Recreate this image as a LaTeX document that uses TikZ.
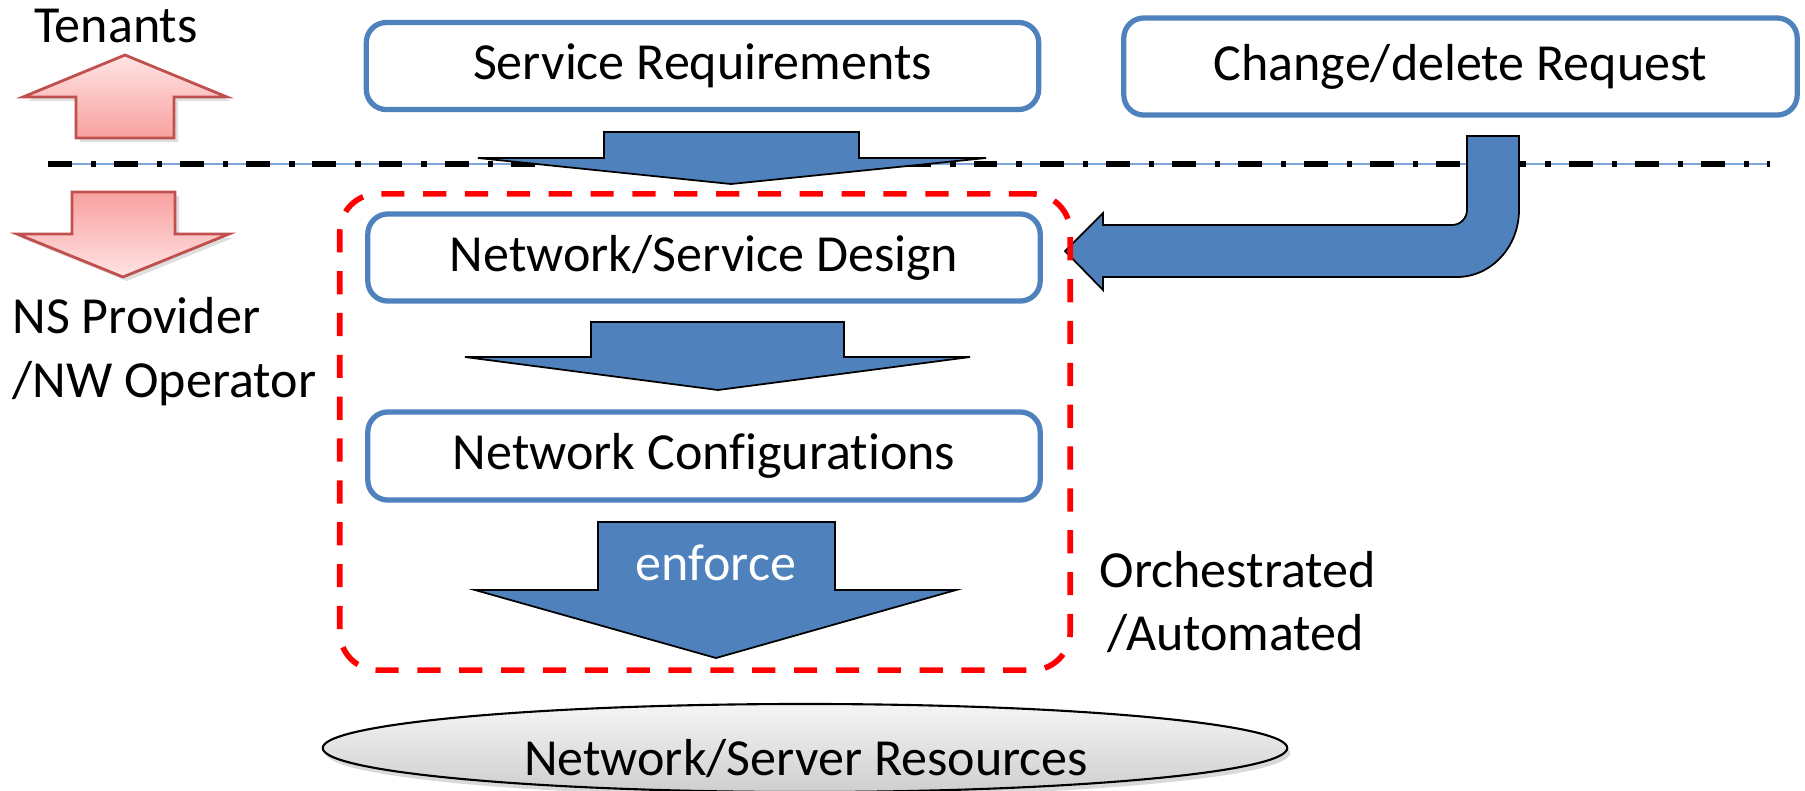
\documentclass[tikz,border=0pt]{standalone}
\usepackage{fontspec}
\setmainfont{Carlito}[Ligatures=NoCommon]
\usetikzlibrary{shapes.geometric,shadows}
\definecolor{boxblue}{HTML}{4F81BD}
\definecolor{arrblue}{HTML}{4F81BD}
\definecolor{pinkedge}{HTML}{C0504D}
\definecolor{pinklight}{HTML}{FFE4E4}
\definecolor{pinkdark}{HTML}{F8A09F}
\definecolor{sepblue}{HTML}{7EA6D8}
\begin{document}
\begin{tikzpicture}[x=0.01cm,y=-0.01cm,
  every node/.style={font=\fontsize{14.8pt}{17.8pt}\selectfont},
  txt/.style={inner sep=0pt},
  procbox/.style={draw=boxblue, line width=1.5pt, rounded corners=0.2cm, fill=white,
    minimum width=6.72cm, minimum height=0.87cm, inner sep=0pt},
  blockarrow/.style={fill=arrblue, draw=black, line width=0.5pt, line join=miter},
  pinkarrow/.style={draw=pinkedge, line width=0.8pt,
    drop shadow={opacity=0.25, shadow xshift=0.04cm, shadow yshift=-0.04cm}},
  orchbox/.style={draw=red, line width=1.6pt, dash pattern=on 6.6pt off 5.3pt,
    rounded corners=0.38cm, minimum width=7.3cm, minimum height=4.76cm, inner sep=0pt}
]
\useasboundingbox (0,0) rectangle (1805,790);

% separator line
\coordinate (sepL) at (48,164);
\coordinate (sepR) at (1770,164);
\draw[sepblue, line width=0.5pt] (sepL) -- (sepR);
\draw[black, line width=1.9pt, dash pattern=on 6.8pt off 5.4pt on 1.5pt off 5.1pt] (sepL) -- (sepR);

% left side
\node[txt, anchor=base] (ten) at (116,42) {Tenants};
\draw[pinkarrow, top color=pinklight, bottom color=pinkdark]
  (76,138) -- (76,97) -- (23,97) -- (125,55) -- (227,97) -- (174,97) -- (174,138) -- cycle;
\draw[pinkarrow, top color=pinkdark, bottom color=pinklight]
  (72,192) -- (175,192) -- (175,234) -- (229,234) -- (123,277) -- (17,234) -- (72,234) -- cycle;
\node[txt, anchor=base west] (nsp) at (12,333) {NS Provider};
\node[txt, anchor=base west] (nwo) at (12,397) {/NW Operator};

% boxes
\node[procbox] (sr) at (702.5,66) {Service Requirements};
\node[procbox, minimum width=6.73cm, minimum height=0.97cm] (cd) at (1460.5,66.5) {Change/delete Request};
\node[procbox] (nsd) at (704,257.5) {Network/Service Design};
\node[procbox, minimum height=0.88cm] (nc) at (704,456) {Network Configurations};

% block arrows
\draw[blockarrow] (604,132) -- (859,132) -- (859,158) -- (986,158) -- (731,184)
  -- (478,158) -- (604,158) -- cycle;
\draw[blockarrow] (591,322) -- (844,322) -- (844,357) -- (970,357) -- (718,390)
  -- (465,357) -- (591,357) -- cycle;
\draw[blockarrow] (598,522) -- (835,522) -- (835,590) -- (956,590) -- (716,658)
  -- (475,590) -- (598,590) -- cycle;
\node[txt, anchor=base, white] (enf) at (716,580) {enforce};

% bent arrow from change/delete request
\draw[blockarrow] (1467,136) -- (1519,136) -- (1519,210)
  .. controls (1519,247) and (1491,277) .. (1457,277) -- (1103,277) -- (1103,290)
  -- (1065,251) -- (1103,213) -- (1103,225) -- (1452,225)
  .. controls (1460.3,225) and (1467,218.3) .. (1467,210) -- cycle;

% orchestrated region
\node[orchbox] (orch) at (705,432) {};
\node[txt, anchor=base west] (orc) at (1099,587) {Orchestrated};
\node[txt, anchor=base west] (aut) at (1107,650) {/Automated};

% resources
\node[ellipse, draw=black, line width=0.6pt, top color=gray!8, bottom color=gray!38,
  minimum width=9.64cm, minimum height=0.88cm, inner sep=0pt,
  drop shadow={opacity=0.3, shadow xshift=0.03cm, shadow yshift=-0.05cm}] (res) at (805,748) {};
\node[txt, anchor=base] (restext) at (806,775) {Network/Server Resources};
\end{tikzpicture}
\end{document}
